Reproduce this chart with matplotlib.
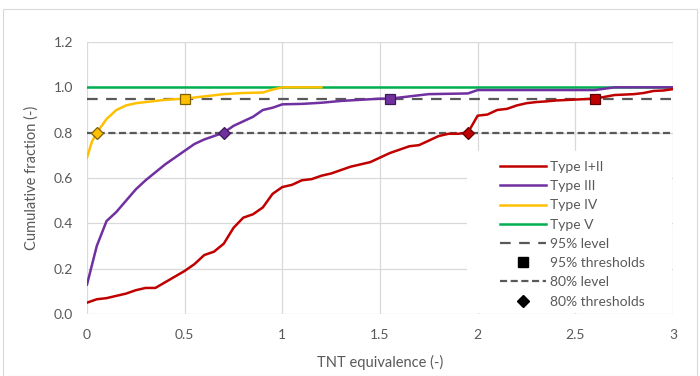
import matplotlib
matplotlib.use("Agg")
import matplotlib.pyplot as plt
from matplotlib.lines import Line2D
from matplotlib.patches import Rectangle

plt.rcParams['font.family'] = ['Lato', 'DejaVu Sans']

# ---- data ----
x_red = [0, 0.05, 0.1, 0.15, 0.2, 0.25, 0.3, 0.35, 0.4, 0.45, 0.5, 0.55, 0.6, 0.65, 0.7,
         0.75, 0.8, 0.85, 0.9, 0.95, 1.0, 1.05, 1.1, 1.15, 1.2, 1.25, 1.3, 1.35, 1.4, 1.45,
         1.5, 1.55, 1.6, 1.65, 1.7, 1.75, 1.8, 1.85, 1.9, 1.95, 2.0, 2.05, 2.1, 2.15, 2.2,
         2.25, 2.3, 2.35, 2.4, 2.45, 2.5, 2.55, 2.6, 2.65, 2.7, 2.75, 2.8, 2.85, 2.9, 2.95, 3.0]
y_red = [0.05, 0.065, 0.07, 0.08, 0.09, 0.105, 0.115, 0.115, 0.14, 0.165, 0.19, 0.22, 0.26,
         0.275, 0.31, 0.38, 0.425, 0.44, 0.47, 0.53, 0.56, 0.57, 0.59, 0.595, 0.61, 0.62,
         0.635, 0.65, 0.66, 0.67, 0.69, 0.71, 0.725, 0.74, 0.745, 0.765, 0.785, 0.795, 0.795,
         0.80, 0.875, 0.88, 0.9, 0.905, 0.92, 0.93, 0.935, 0.938, 0.942, 0.944, 0.946, 0.948,
         0.95, 0.958, 0.966, 0.968, 0.97, 0.975, 0.984, 0.986, 0.992]

x_purple = [0, 0.05, 0.1, 0.15, 0.2, 0.25, 0.3, 0.35, 0.4, 0.45, 0.5, 0.55, 0.6, 0.65, 0.7,
            0.75, 0.8, 0.85, 0.9, 0.95, 1.0, 1.1, 1.2, 1.3, 1.4, 1.5, 1.55, 1.65, 1.75, 1.95,
            2.0, 2.6, 2.7, 3.0]
y_purple = [0.13, 0.30, 0.41, 0.45, 0.50, 0.55, 0.59, 0.625, 0.66, 0.69, 0.72, 0.75, 0.77,
            0.785, 0.80, 0.83, 0.85, 0.87, 0.90, 0.91, 0.925, 0.927, 0.932, 0.94, 0.945, 0.95,
            0.95, 0.96, 0.97, 0.973, 0.988, 0.988, 1.0, 1.0]

x_yellow = [0, 0.025, 0.05, 0.1, 0.15, 0.2, 0.25, 0.3, 0.4, 0.5, 0.6, 0.7, 0.8, 0.9, 0.95, 1.0, 1.2]
y_yellow = [0.69, 0.76, 0.80, 0.86, 0.90, 0.92, 0.93, 0.935, 0.945, 0.95, 0.96, 0.97, 0.975,
            0.977, 0.99, 1.0, 1.0]

x_green = [0, 3]
y_green = [1.0, 1.0]

level95 = 0.95
level80 = 0.80
thr95_x = [0.5, 1.55, 2.6]      # Type IV, Type III, Type I+II
thr80_x = [0.05, 0.7, 1.95]

x_ticks = [0, 0.5, 1, 1.5, 2, 2.5, 3]
x_ticklabels = ['0', '0.5', '1', '1.5', '2', '2.5', '3']
y_ticks = [0.0, 0.2, 0.4, 0.6, 0.8, 1.0, 1.2]

# ---- styles ----
c_red = '#C00000'
c_purple = '#7030A0'
c_yellow = '#FFC000'
c_green = '#00B050'
c_dash = '#595959'
c_text = '#595959'
thr_colors = [c_yellow, c_purple, c_red]
thr_edges = ['#7F6000', '#3C1A56', '#600000']
LW = 1.8

fig = plt.figure(figsize=(7.0, 3.76), dpi=100)
ax = fig.add_axes([87/700, 1-314/376, (673-87)/700, (314-42)/376])

# outer frame
fig.patches.append(Rectangle((3/700, 0), 694/700, 1-9/376, transform=fig.transFigure,
                             fill=False, edgecolor='#D9D9D9', linewidth=0.8, clip_on=False))

ax.plot(x_green, y_green, color=c_green, lw=LW, zorder=3)
ax.plot(x_yellow, y_yellow, color=c_yellow, lw=LW, zorder=3)
ax.plot(x_purple, y_purple, color=c_purple, lw=LW, zorder=3)
ax.plot(x_red, y_red, color=c_red, lw=LW, zorder=3)

l95, = ax.plot([0, 3], [level95, level95], color=c_dash, lw=1.6, zorder=2)
l95.set_dashes([4.8, 3.8])
l80, = ax.plot([0, 3], [level80, level80], color=c_dash, lw=1.6, zorder=2)
l80.set_dashes([3.2, 1.6])

for xv, fc, ec in zip(thr95_x, thr_colors, thr_edges):
    ax.plot([xv], [level95], marker='s', ms=7, mfc=fc, mec=ec, mew=0.9, ls='none', zorder=5)
for xv, fc, ec in zip(thr80_x, thr_colors, thr_edges):
    ax.plot([xv], [level80], marker='D', ms=6.5, mfc=fc, mec=ec, mew=0.9, ls='none', zorder=5)

ax.set_xlim(0, 3)
ax.set_ylim(0, 1.2)
ax.set_xticks(x_ticks)
ax.set_xticklabels(x_ticklabels)
ax.set_yticks(y_ticks)
ax.set_yticklabels([f'{v:.1f}' for v in y_ticks])
ax.tick_params(axis='x', length=0, labelsize=10, labelcolor=c_text, pad=11)
ax.tick_params(axis='y', length=0, labelsize=10, labelcolor=c_text, pad=10)
ax.grid(True, color='#D9D9D9', lw=0.9)
for s in ax.spines.values():
    s.set_visible(False)
ax.set_axisbelow(True)

# white legend area covering gridlines
ax.add_patch(Rectangle(((467-87)/586, 0.005), (672-467)/586, (314-151)/272 - 0.005,
                       transform=ax.transAxes, facecolor='white', edgecolor='none', zorder=1))

ax.set_xlabel('TNT equivalence (-)', fontsize=10.5, color=c_text, labelpad=10)
ax.set_ylabel('Cumulative fraction (-)', fontsize=10.5, color=c_text, labelpad=11)

h_red = Line2D([], [], color=c_red, lw=LW)
h_purple = Line2D([], [], color=c_purple, lw=LW)
h_yellow = Line2D([], [], color=c_yellow, lw=LW)
h_green = Line2D([], [], color=c_green, lw=LW)
h_95 = Line2D([], [], color=c_dash, lw=1.6, dashes=[4.8, 3.8])
h_95t = Line2D([], [], color='black', marker='s', ms=7, ls='none')
h_80 = Line2D([], [], color=c_dash, lw=1.6, dashes=[3.2, 1.6])
h_80t = Line2D([], [], color='black', marker='D', ms=6, ls='none')

leg = ax.legend([h_red, h_purple, h_yellow, h_green, h_95, h_95t, h_80, h_80t],
                ['Type I+II', 'Type III', 'Type IV', 'Type V', '95% level', '95% thresholds',
                 '80% level', '80% thresholds'],
                loc='upper left', bbox_to_anchor=((500-87)/586, (314-161)/272),
                borderaxespad=0, borderpad=0,
                fontsize=10, labelcolor=c_text, handlelength=3.3, handletextpad=0.3,
                labelspacing=0.52, frameon=False)
leg.set_zorder(6)

fig.savefig('out.png', dpi=100)
